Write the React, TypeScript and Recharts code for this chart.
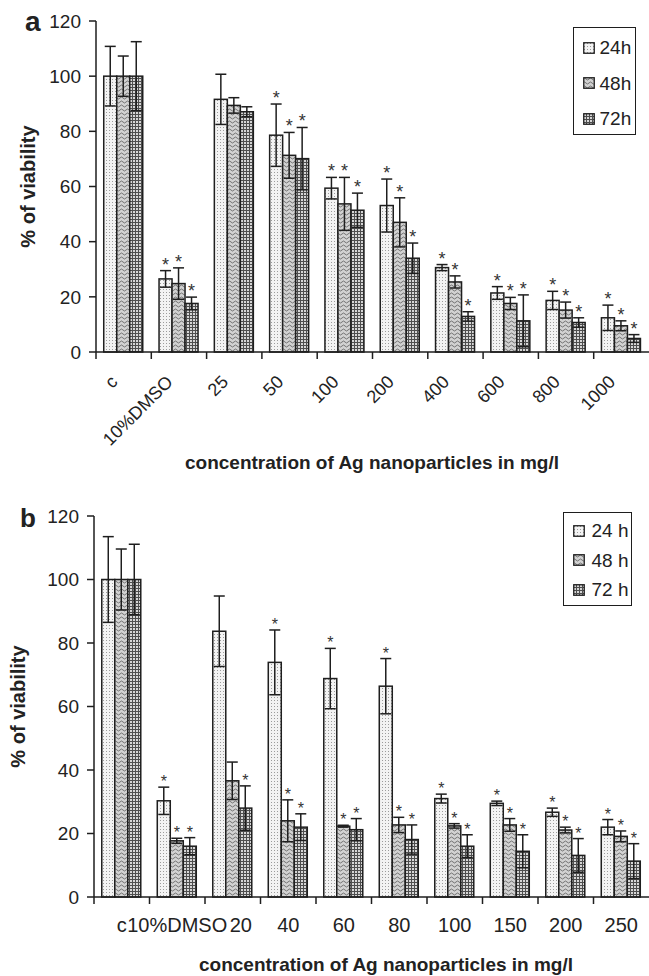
import React from 'react';
import { BarChart, Bar, XAxis, YAxis, ErrorBar, Legend } from 'recharts';

// panel a
const catsA = ['c', '10%DMSO', '25', '50', '100', '200', '400', '600', '800', '1000'];
const a24 = [100, 26.5, 91.6, 78.6, 59.4, 53.1, 30.6, 21.4, 18.7, 12.4];
const a48 = [100, 24.8, 89.4, 71.3, 53.7, 47, 25.4, 17.6, 15.2, 9.5];
const a72 = [100, 17.6, 87.1, 70.1, 51.4, 34, 12.9, 11.3, 10.7, 4.9];
const aErr24 = [10.8, 3, 9.1, 11.3, 3.9, 9.6, 1.1, 2.3, 3.3, 4.6];
const aErr48 = [7.3, 5.7, 2.8, 8.3, 9.6, 8.9, 2.2, 2.2, 2.9, 1.8];
const aErr72 = [12.5, 2.3, 1.8, 11.3, 6.2, 5.5, 1.7, 9.4, 1.7, 1.4];
const aSig24 = [0, 1, 0, 1, 1, 1, 1, 1, 1, 1];
const aSig48 = [0, 1, 0, 1, 1, 1, 1, 1, 1, 1];
const aSig72 = [0, 1, 0, 1, 1, 1, 1, 1, 1, 1];
const namesA = ['24h', '48h', '72h'];

// panel b
const catsB = ['c', '10%DMSO', '20', '40', '60', '80', '100', '150', '200', '250'];
const b24 = [100, 30.3, 83.7, 73.9, 68.8, 66.4, 31, 29.5, 26.7, 22];
const b48 = [100, 17.7, 36.6, 24, 22.3, 22.7, 22.4, 22.7, 21.1, 19.1];
const b72 = [100, 16, 28, 22, 21.2, 18.1, 16, 14.4, 13.1, 11.3];
const bErr24 = [13.5, 4.3, 11.1, 10.2, 9.5, 8.7, 1.4, 0.7, 1.3, 2.4];
const bErr48 = [9.6, 0.8, 5.9, 6.6, 0.3, 2.4, 0.7, 2, 0.9, 1.7];
const bErr72 = [11.1, 2.7, 7, 4.2, 3.5, 4.6, 3.6, 5.2, 5.3, 5.5];
const bSig24 = [0, 1, 0, 1, 1, 1, 1, 1, 1, 1];
const bSig48 = [0, 1, 0, 1, 1, 1, 1, 1, 1, 1];
const bSig72 = [0, 1, 1, 1, 1, 1, 1, 1, 1, 1];
const namesB = ['24 h', '48 h', '72 h'];

const yTicks = [0, 20, 40, 60, 80, 100, 120];
const INK = '#1e1e1e';
const FILLS = ['url(#p24)', 'url(#p48)', 'url(#p72)'];
const KEYS = ['24', '48', '72'];

const buildData = (cats: string[], v: number[][], e: number[][], s: number[][]) =>
  cats.map((cat, i) => ({
    cat,
    v24: v[0][i], v48: v[1][i], v72: v[2][i],
    e24: e[0][i], e48: e[1][i], e72: e[2][i],
    s24: s[0][i], s48: s[1][i], s72: s[2][i],
  }));

const dataA = buildData(catsA, [a24, a48, a72], [aErr24, aErr48, aErr72], [aSig24, aSig48, aSig72]);
const dataB = buildData(catsB, [b24, b48, b72], [bErr24, bErr48, bErr72], [bSig24, bSig48, bSig72]);

// bar rect plus the significance star above its error bar
const makeShape = (k: string, fill: string, starSize: number) => (p: any) => {
  const { x, y, width, height, payload } = p;
  const v = payload['v' + k];
  const ppu = v ? height / v : 0;
  const errTop = y - payload['e' + k] * ppu;
  return (
    <g>
      <rect x={x} y={y} width={width} height={height} fill={fill} stroke={INK} strokeWidth={1.5} />
      {payload['s' + k] ? (
        <text x={x + width / 2} y={errTop} textAnchor="middle" fontSize={starSize} fill="#333">*</text>
      ) : null}
    </g>
  );
};

const Swatch = ({ fill }: { fill: string }) => (
  <svg width={12} height={12} style={{ display: 'block' }}>
    <rect x={0.75} y={0.75} width={10.5} height={10.5} fill={fill} stroke={INK} strokeWidth={1.3} />
  </svg>
);

const makeLegend = (names: string[], w: number, h: number, rowH: number, padTop: number, swLeft: number, gap: number) => () => (
  <div style={{ width: w, height: h, boxSizing: 'border-box', border: `1.5px solid ${INK}`, background: '#fff', paddingTop: padTop }}>
    {names.map((n, i) => (
      <div key={n} style={{ height: rowH, display: 'flex', alignItems: 'center', paddingLeft: swLeft - 1.5 }}>
        <Swatch fill={FILLS[i]} />
        <span style={{ marginLeft: gap, fontSize: 19, color: '#222', lineHeight: 1 }}>{n}</span>
      </div>
    ))}
  </div>
);

const yTick = (p: any) => (
  <text x={p.x} y={p.y} dy="0.355em" textAnchor="end" fontSize={19} fill="#222">{p.payload.value}</text>
);

interface PanelProps {
  data: any[];
  names: string[];
  height: number;
  top: number;
  axisW: number;
  xAxisH: number;
  rotated: boolean;
  titleX: number;
  titleY: number;
  yTitleX: number;
  starSize: number;
  legend: () => React.ReactElement;
  legendPos: { left: number; top: number };
}

const Panel = (pp: PanelProps) => {
  const W = 649;
  const cw = (W - pp.axisW) / pp.data.length;
  const plotBottom = pp.height - pp.xAxisH;
  const plotMid = (pp.top + plotBottom) / 2;

  const tick = (p: any) => {
    const { x, y, payload, index } = p;
    const bx = x - cw / 2;
    // the label after "10%DMSO" sits a little to the right, as in the source figure
    const dx = !pp.rotated && index === 2 ? 8 : 0;
    return (
      <g>
        <line x1={bx} x2={bx} y1={y} y2={y + 7} stroke={INK} strokeWidth={1.5} />
        {pp.rotated ? (
          <text x={x - 5} y={y + 31} textAnchor="end" fontSize={18} fill="#222"
            transform={`rotate(-45 ${x - 5} ${y + 31})`}>{payload.value}</text>
        ) : (
          <text x={x + dx} y={y + 35} textAnchor="middle" fontSize={20} fill="#222">{payload.value}</text>
        )}
      </g>
    );
  };

  return (
    <BarChart width={W} height={pp.height} data={pp.data}
      margin={{ top: pp.top, right: 0, left: 0, bottom: 0 }}
      barCategoryGap="14%" barGap={0}>
      <XAxis dataKey="cat" height={pp.xAxisH} interval={0} tickLine={false} tickSize={0} tickMargin={0}
        axisLine={{ stroke: INK, strokeWidth: 1.5 }} tick={tick}
        label={{
          content: () => (
            <text x={pp.titleX} y={pp.titleY} textAnchor="middle" fontSize={19} fontWeight="bold" fill="#222">
              concentration of Ag nanoparticles in mg/l
            </text>
          ),
        }} />
      <YAxis width={pp.axisW} domain={[0, 120]} ticks={yTicks} interval={0} tickSize={7} tickMargin={8}
        axisLine={{ stroke: INK, strokeWidth: 1.5 }} tickLine={{ stroke: INK, strokeWidth: 1.5 }}
        tick={yTick}
        label={{
          content: () => (
            <text x={pp.yTitleX} y={plotMid} textAnchor="middle" fontSize={20} fontWeight="bold" fill="#222"
              transform={`rotate(-90 ${pp.yTitleX} ${plotMid})`}>% of viability</text>
          ),
        }} />
      <Legend layout="vertical" align="center" verticalAlign="middle" content={pp.legend}
        wrapperStyle={{ left: pp.legendPos.left, top: pp.legendPos.top, width: 'auto', height: 'auto' }} />
      {KEYS.map((k, i) => (
        <Bar key={k} dataKey={'v' + k} name={pp.names[i]} fill={FILLS[i]} isAnimationActive={false}
          shape={makeShape(k, FILLS[i], pp.starSize)}>
          <ErrorBar dataKey={'e' + k} width={5.5} stroke={INK} strokeWidth={1.5} direction="y" isAnimationActive={false} />
        </Bar>
      ))}
    </BarChart>
  );
};

export default function App() {
  return (
    <div style={{ position: 'absolute', left: 0, top: 0, width: 649, height: 976, background: '#fff', overflow: 'hidden',
      fontFamily: '"Liberation Sans", Arial, sans-serif' }}>
      <svg width={0} height={0} style={{ position: 'absolute' }}>
        <defs>
          <pattern id="p24" width={3} height={3} patternUnits="userSpaceOnUse">
            <rect width={3} height={3} fill="#f3f3f3" />
            <rect x={1} y={1} width={1} height={1} fill="#9c9c9c" />
          </pattern>
          <pattern id="p48" width={6} height={4} patternUnits="userSpaceOnUse">
            <rect width={6} height={4} fill="#d2d2d2" />
            <path d="M0 2 Q1.5 0 3 2 T6 2" fill="none" stroke="#666" strokeWidth={0.9} />
          </pattern>
          <pattern id="p72" width={3} height={3} patternUnits="userSpaceOnUse">
            <rect width={3} height={3} fill="#d6d6d6" />
            <rect x={0} y={0} width={3} height={1} fill="#4e4e4e" />
            <rect x={0} y={0} width={1} height={3} fill="#4e4e4e" />
          </pattern>
        </defs>
      </svg>

      <div style={{ position: 'absolute', left: 0, top: 0 }}>
        <Panel data={dataA} names={namesA} height={480} top={21} axisW={96} xAxisH={128} rotated
          titleX={372} titleY={469} yTitleX={35} starSize={18}
          legend={makeLegend(namesA, 63, 108, 35.5, 2, 10, 5)} legendPos={{ left: 573, top: 27 }} />
      </div>
      <div style={{ position: 'absolute', left: 0, top: 480 }}>
        <Panel data={dataB} names={namesB} height={496} top={36} axisW={94} xAxisH={79} rotated={false}
          titleX={386} titleY={491} yTitleX={25} starSize={16}
          legend={makeLegend(namesB, 69, 94, 29.5, 3, 10, 7)} legendPos={{ left: 563, top: 32 }} />
      </div>

      <svg width={649} height={976} style={{ position: 'absolute', left: 0, top: 0, pointerEvents: 'none' }}>
        <text x={25} y={31} fontSize={28} fontWeight="bold" fill="#222">a</text>
        <text x={20} y={527} fontSize={26} fontWeight="bold" fill="#222">b</text>
      </svg>
    </div>
  );
}
